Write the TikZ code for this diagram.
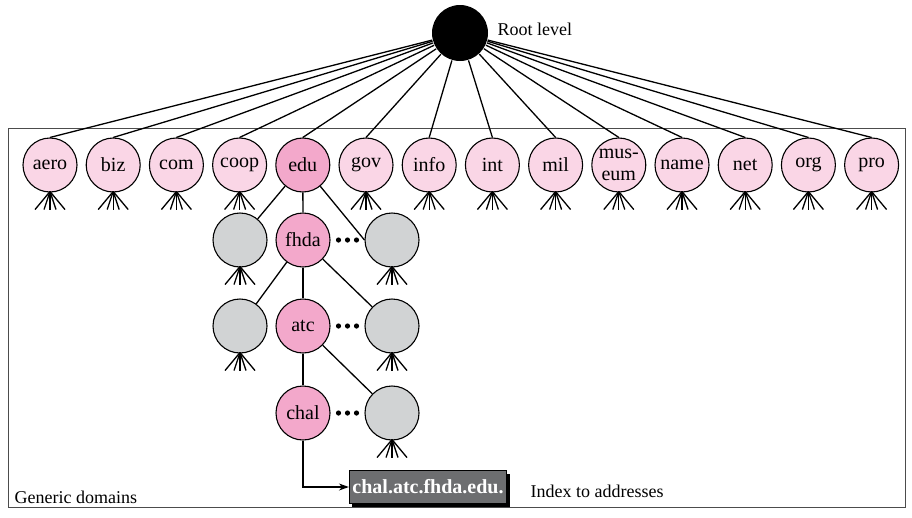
\documentclass[tikz,border=0pt]{standalone}
\usepackage{fontspec}
\setmainfont{Liberation Serif}
\usetikzlibrary{arrows.meta, positioning, calc, shadows}
\definecolor{lpink}{RGB}{250,214,230}
\definecolor{dpink}{RGB}{243,168,203}
\definecolor{nodegray}{RGB}{209,211,212}
\definecolor{boxgray}{RGB}{109,110,112}

\begin{document}
\begin{tikzpicture}[x=1pt, y=-1pt, line width=1.3pt,
  every node/.style={font=\fontsize{18}{19}\selectfont},
  dom/.style={circle, draw, line width=1.1pt, minimum size=54pt, inner sep=0pt, align=center,
    font=\fontsize{20}{22}\selectfont},
  legs/.pic={\foreach \dx in {-15,-6,0,6,15} \draw[line width=1.3pt] (0,-1) -- (\dx,17);}
]
  \useasboundingbox (0,0) rectangle (912,517);
  \draw[gray!60!black, line width=1pt] (8,128) rectangle (905,507);

  % root and generic domains
  \node[circle, fill=black, minimum size=56pt] (root) at (460,33) {};
  \node[anchor=base west, inner sep=0pt] (rootlbl) at (497,35) {Root level};
  \foreach \nm/\lbl/\col [count=\i from 0] in {aero/aero/lpink, biz/biz/lpink, com/com/lpink,
      coop/coop/lpink, edu/edu/dpink, gov/gov/lpink, info/info/lpink, int/int/lpink, mil/mil/lpink,
      museum/{mus-\\eum}/lpink, name/name/lpink, net/net/lpink, org/org/lpink, pro/pro/lpink} {
    \node[dom, fill=\col] (\nm) at (50+63.2*\i,165) {\lbl};
    \draw (root) -- (\nm.north);
  }

  % edu subtree
  \node[dom, fill=nodegray] (g1l) at (240,240) {};
  \node[dom, fill=dpink] (fhda) at (303,240) {fhda};
  \node[dom, fill=nodegray] (g1r) at (392,240) {};
  \node[dom, fill=nodegray] (g2l) at (240,326) {};
  \node[dom, fill=dpink] (atc) at (303,326) {atc};
  \node[dom, fill=nodegray] (g2r) at (392,326) {};
  \node[dom, fill=dpink] (chal) at (303,413) {chal};
  \node[dom, fill=nodegray] (g3r) at (392,413) {};

  \draw (edu) -- (g1l);
  \draw (edu) -- (fhda);
  \draw (edu) -- (g1r.west);
  \draw (fhda) -- (g2l);
  \draw (fhda) -- (atc);
  \draw (fhda) -- (g2r);
  \draw (atc) -- (chal);
  \draw (atc) -- (g3r);

  \foreach \nm in {aero,biz,com,coop,gov,info,int,mil,museum,name,net,org,pro,g1l,g1r,g2l,g2r,g3r}
    \pic at (\nm.south) {legs};
  \foreach \a/\b in {fhda/g1r, atc/g2r, chal/g3r}
    \foreach \k in {-9,0,9}
      \fill ($(\a)!0.5!(\b)+(\k,0)$) circle (2.6pt);

  % full name
  \node[fill=boxgray, draw=black, line width=1.1pt, text=white, font=\bfseries\fontsize{20}{19}\selectfont,
    drop shadow={shadow xshift=3pt, shadow yshift=-3pt, opacity=1, fill=black},
    inner sep=3pt, minimum height=33pt] (addr) at (428,487) {chal.atc.fhda.edu.};
  \draw[-{Stealth[length=10pt,width=7pt]}] (chal) |- (addr);
  \node[anchor=base west, inner sep=0pt] (idx) at (530,497) {Index to addresses};
  \node[anchor=base west, inner sep=0pt] (gen) at (14,503) {Generic domains};
\end{tikzpicture}
\end{document}
